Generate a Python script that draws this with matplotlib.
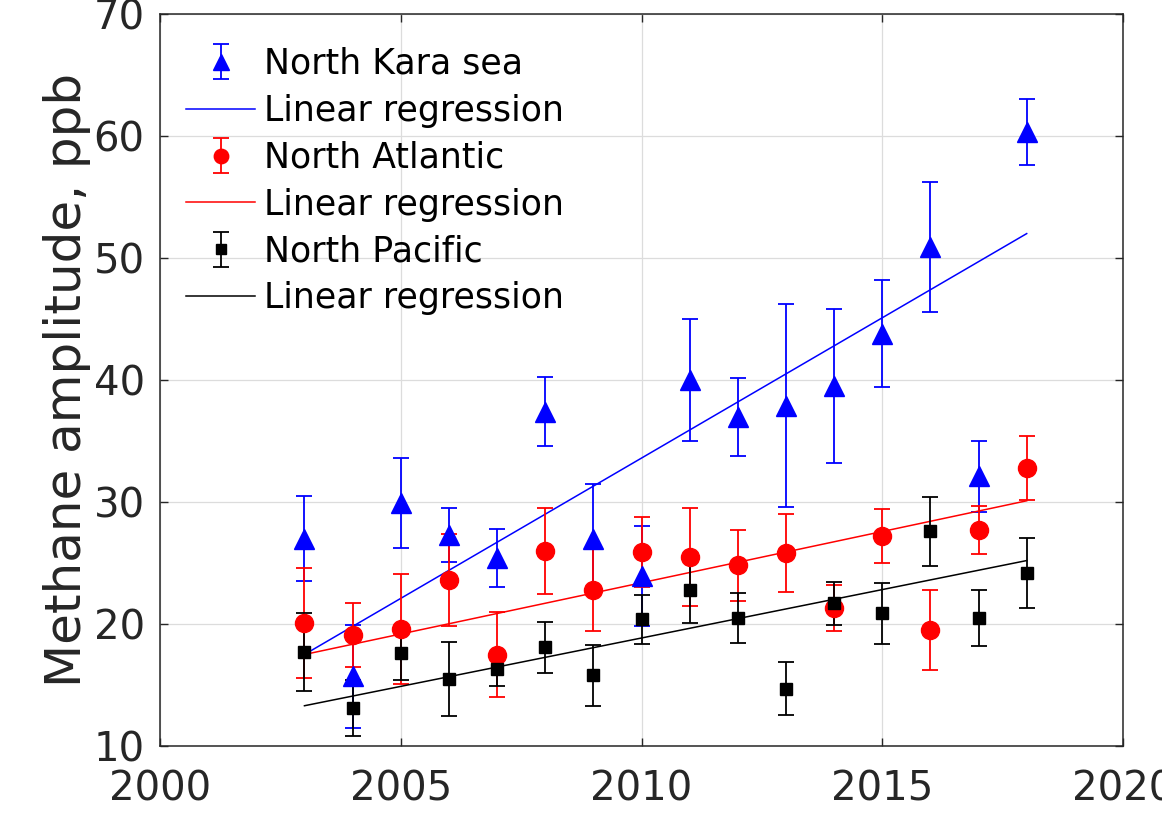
import numpy as np
import matplotlib.pyplot as plt

years = np.arange(2003, 2019)

# North Kara sea
kara = [27.0, 15.7, 29.9, 27.3, 25.4, 37.4, 27.0, 23.9, 40.0, 37.0, 37.9, 39.5, 43.8, 50.9, 32.1, 60.3]
kara_err = [3.5, 4.2, 3.7, 2.2, 2.4, 2.85, 4.5, 4.1, 5.0, 3.2, 8.3, 6.3, 4.4, 5.3, 2.9, 2.7]
# North Atlantic
atl = [20.1, 19.1, 19.6, 23.6, 17.5, 26.0, 22.8, 25.9, 25.5, 24.8, 25.8, 21.3, 27.2, 19.5, 27.7, 32.8]
atl_err = [4.5, 2.6, 4.5, 3.8, 3.5, 3.5, 3.4, 2.9, 4.0, 2.9, 3.2, 1.9, 2.2, 3.25, 1.95, 2.6]
# North Pacific
pac = [17.7, 13.1, 17.6, 15.5, 16.3, 18.1, 15.8, 20.4, 22.8, 20.5, 14.7, 21.7, 20.9, 27.6, 20.5, 24.2]
pac_err = [3.2, 2.3, 2.2, 3.0, 1.35, 2.1, 2.5, 2.0, 2.7, 2.05, 2.15, 1.75, 2.5, 2.85, 2.3, 2.85]

# regression lines (end points)
fit_years = [2003, 2018]
kara_fit = [17.5, 52.0]
atl_fit = [17.5, 30.1]
pac_fit = [13.3, 25.2]

fig = plt.figure(figsize=(11.62, 8.22), dpi=100)
ax = fig.add_axes([160/1162, 76/822, 963/1162, 732/822])

ekw = dict(capsize=6, elinewidth=1.3, capthick=1.3, linestyle='none')
h1 = ax.errorbar(years, kara, yerr=kara_err, fmt='^', color='b', ms=14, **ekw)
l1, = ax.plot(fit_years, kara_fit, color='b', lw=1.1)
h2 = ax.errorbar(years, atl, yerr=atl_err, fmt='o', color='r', ms=13, **ekw)
l2, = ax.plot(fit_years, atl_fit, color='r', lw=1.1)
h3 = ax.errorbar(years, pac, yerr=pac_err, fmt='s', color='k', ms=8.5, **ekw)
l3, = ax.plot(fit_years, pac_fit, color='k', lw=1.1)

ax.set_xlim(2000, 2020)
ax.set_ylim(10, 70)
ax.set_xticks([2000, 2005, 2010, 2015, 2020])
ax.set_yticks([10, 20, 30, 40, 50, 60, 70])
ax.grid(True, color='#dcdcdc', lw=0.9)
ax.set_axisbelow(True)
ax.tick_params(direction='in', top=True, right=True, length=6, width=1,
               colors='#262626', labelsize=29)
ax.tick_params(axis='x', pad=17)
ax.tick_params(axis='y', pad=11)
for s in ax.spines.values():
    s.set_color('#262626')
    s.set_linewidth(1.1)

ax.set_ylabel('Methane amplitude, ppb', fontsize=36, color='#262626', labelpad=2)

ax.legend([h1, l1, h2, l2, h3, l3],
          ['North Kara sea', 'Linear regression', 'North Atlantic',
           'Linear regression', 'North Pacific', 'Linear regression'],
          loc='upper left', bbox_to_anchor=(186/1162, 1 - 47/822),
          bbox_transform=fig.transFigure, frameon=False, fontsize=25,
          borderpad=0, borderaxespad=0, handlelength=2.0, handletextpad=0.25,
          labelspacing=0.37, markerscale=0.8)

fig.savefig('out.png', dpi=100)
